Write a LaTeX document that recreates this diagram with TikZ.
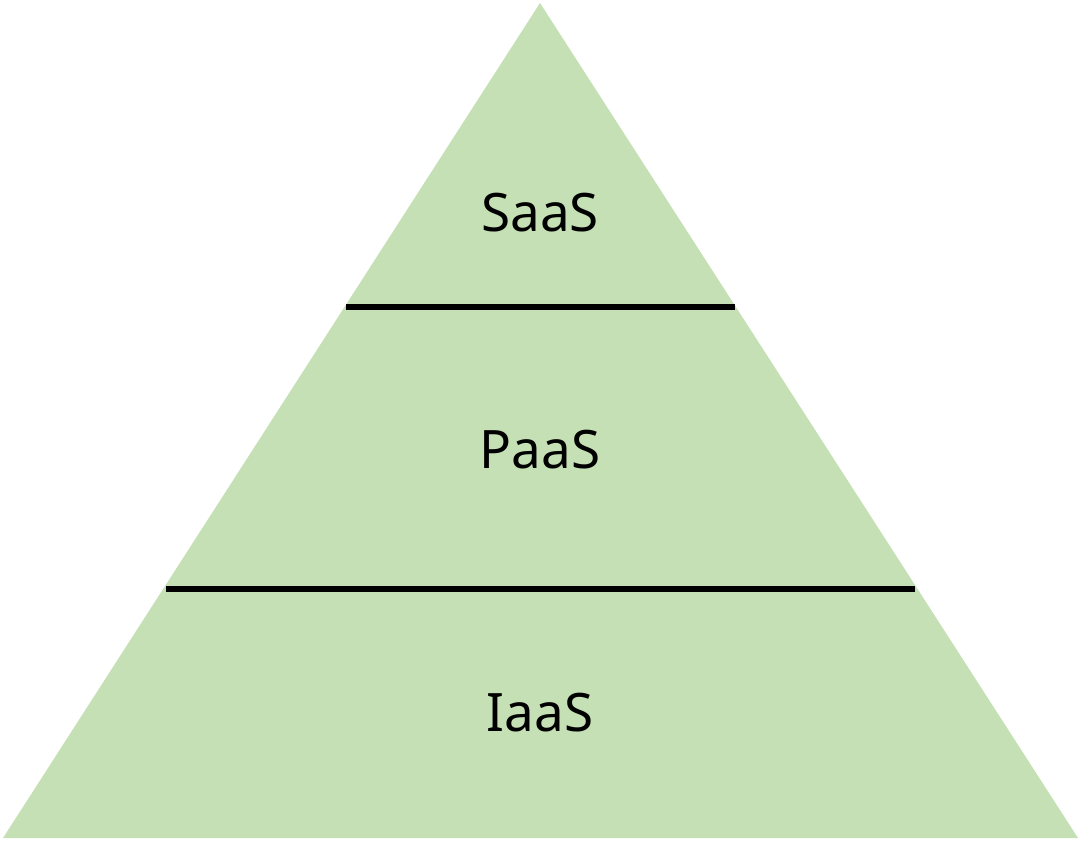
\documentclass[tikz,border=0pt]{standalone}
\usepackage{fontspec}
\setmainfont{Noto Sans}
\definecolor{pyrgreen}{HTML}{C5E0B4}
\begin{document}
\begin{tikzpicture}[x=1pt,y=-1pt,
  layer/.style={font=\fontsize{53}{58}\selectfont, text=black, inner sep=0pt},
  divider/.style={line width=5.5pt, black}]
\useasboundingbox (0,0) rectangle (1080,841);
\fill[pyrgreen] (540,3) -- (1078,838) -- (3,838) -- cycle;
\coordinate (l1a) at (346,307);
\coordinate (l1b) at (735,307);
\coordinate (l2a) at (166,589);
\coordinate (l2b) at (915,589);
\draw[divider] (l1a) -- (l1b);
\draw[divider] (l2a) -- (l2b);
\node[layer] (saas) at (540,213) {SaaS};
\node[layer] (paas) at (540,450) {PaaS};
\node[layer] (iaas) at (540,713) {IaaS};
\end{tikzpicture}
\end{document}
